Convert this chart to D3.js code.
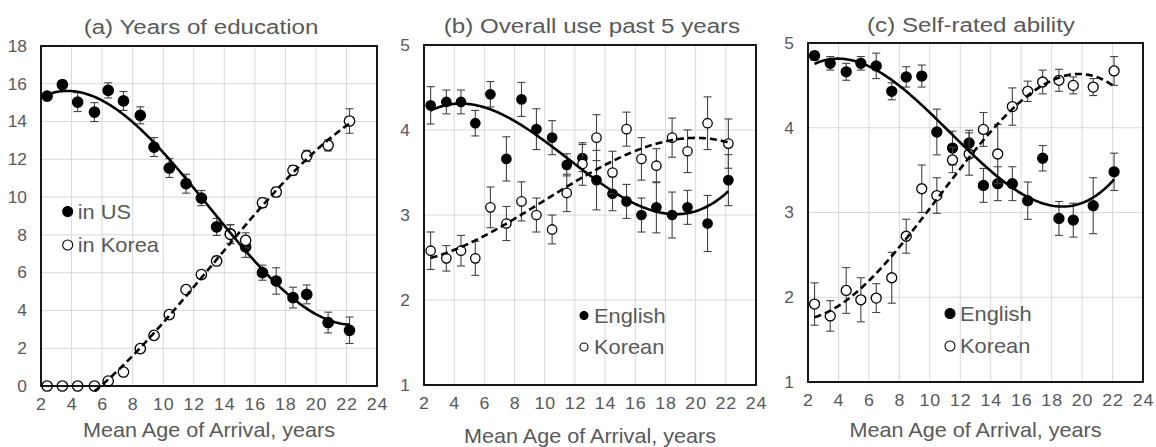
<!DOCTYPE html>
<html>
<head>
<meta charset="utf-8">
<script src="https://cdn.jsdelivr.net/npm/d3@7"></script>
<style>
  html, body { margin: 0; padding: 0; background: #fff; }
  svg { display: block; font-family: Arial, "Liberation Sans", sans-serif; }
</style>
</head>
<body>
<svg id="chart" width="1156" height="447"></svg>
<script>
// ---------- DATA ----------
const xTicks = [2, 4, 6, 8, 10, 12, 14, 16, 18, 20, 22, 24];
const ticksA = [0, 2, 4, 6, 8, 10, 12, 14, 16, 18];
const ticksBC = [1, 2, 3, 4, 5];

// Panel (a) Years of education
const ageA = [2.4, 3.4, 4.4, 5.5, 6.4, 7.4, 8.5, 9.4, 10.4, 11.5, 12.5, 13.5, 14.4, 15.4, 16.5, 17.4, 18.5, 19.4, 20.8, 22.2];
const eduUS = [15.35, 15.96, 15.03, 14.5, 15.65, 15.09, 14.33, 12.65, 11.54, 10.71, 9.95, 8.42, 8.05, 7.36, 6.0, 5.56, 4.68, 4.85, 3.36, 2.95];
const eduUSErr = [0.15, 0.2, 0.5, 0.5, 0.4, 0.5, 0.45, 0.5, 0.5, 0.5, 0.4, 0.45, 0.5, 0.55, 0.4, 0.7, 0.55, 0.5, 0.55, 0.7];
const eduKR = [0, 0, 0, 0, 0.26, 0.74, 1.98, 2.68, 3.78, 5.1, 5.9, 6.62, 8.03, 7.71, 9.7, 10.27, 11.42, 12.18, 12.74, 14.03];
const eduKRErr = [0, 0, 0, 0, 0.1, 0.15, 0.15, 0.2, 0.2, 0.2, 0.2, 0.25, 0.5, 0.4, 0.25, 0.25, 0.25, 0.3, 0.3, 0.65];

// Panel (b) Overall use past 5 years
const ageB = [2.44, 3.48, 4.45, 5.4, 6.4, 7.46, 8.46, 9.45, 10.49, 11.46, 12.5, 13.43, 14.49, 15.42, 16.41, 17.4, 18.44, 19.46, 20.79, 22.17];
const useEN = [4.29, 4.33, 4.33, 4.08, 4.42, 3.66, 4.36, 4.01, 3.91, 3.59, 3.67, 3.41, 3.25, 3.16, 3.0, 3.09, 3.0, 3.09, 2.9, 3.41];
const useENErr = [0.22, 0.14, 0.14, 0.15, 0.15, 0.26, 0.2, 0.24, 0.2, 0.13, 0.16, 0.35, 0.2, 0.2, 0.2, 0.3, 0.27, 0.2, 0.33, 0.3];
const useKR = [2.58, 2.49, 2.58, 2.49, 3.09, 2.9, 3.16, 3.0, 2.83, 3.26, 3.6, 3.91, 3.5, 4.01, 3.66, 3.58, 3.91, 3.75, 4.08, 3.84];
const useKRErr = [0.22, 0.15, 0.18, 0.2, 0.24, 0.2, 0.23, 0.2, 0.17, 0.22, 0.25, 0.27, 0.25, 0.2, 0.25, 0.2, 0.23, 0.25, 0.31, 0.29];

// Panel (c) Self-rated ability
const ageC = [2.43, 3.46, 4.51, 5.47, 6.48, 7.5, 8.45, 9.47, 10.46, 11.49, 12.58, 13.52, 14.46, 15.42, 16.43, 17.41, 18.48, 19.42, 20.73, 22.1];
const ablEN = [4.85, 4.76, 4.66, 4.76, 4.73, 4.43, 4.6, 4.61, 3.95, 3.76, 3.82, 3.32, 3.34, 3.34, 3.14, 3.64, 2.93, 2.91, 3.08, 3.48];
const ablENErr = [0.05, 0.08, 0.1, 0.08, 0.15, 0.1, 0.12, 0.13, 0.27, 0.2, 0.15, 0.2, 0.2, 0.2, 0.22, 0.15, 0.2, 0.2, 0.33, 0.22];
const ablKR = [1.92, 1.78, 2.08, 1.97, 1.99, 2.23, 2.72, 3.28, 3.2, 3.62, 3.69, 3.98, 3.69, 4.25, 4.43, 4.54, 4.56, 4.5, 4.48, 4.67];
const ablKRErr = [0.25, 0.18, 0.27, 0.26, 0.17, 0.3, 0.2, 0.28, 0.21, 0.15, 0.25, 0.2, 0.35, 0.22, 0.12, 0.14, 0.13, 0.1, 0.1, 0.17];

const titles = ["(a) Years of education", "(b) Overall use past 5 years", "(c) Self-rated ability"];
const xTitle = "Mean Age of Arrival, years";
const legendA = ["in US", "in Korea"];
const legendBC = ["English", "Korean"];

// ---------- HELPERS ----------
function polyfit(xs, ys, deg) {
  const n = deg + 1;
  const A = Array.from({length: n}, () => new Array(n + 1).fill(0));
  for (let k = 0; k < xs.length; k++) {
    const p = [];
    for (let i = 0; i < n; i++) p.push(Math.pow(xs[k], i));
    for (let i = 0; i < n; i++) {
      for (let j = 0; j < n; j++) A[i][j] += p[i] * p[j];
      A[i][n] += p[i] * ys[k];
    }
  }
  for (let i = 0; i < n; i++) {
    let m = i;
    for (let r = i + 1; r < n; r++) if (Math.abs(A[r][i]) > Math.abs(A[m][i])) m = r;
    [A[i], A[m]] = [A[m], A[i]];
    for (let r = 0; r < n; r++) {
      if (r === i) continue;
      const f = A[r][i] / A[i][i];
      for (let c = i; c <= n; c++) A[r][c] -= f * A[i][c];
    }
  }
  const coef = A.map((row, i) => row[n] / row[i]);
  return x => coef.reduce((s, c, i) => s + c * Math.pow(x, i), 0);
}

// horizontally stretch text (reference glyphs are slightly wide)
function stretch(sel, sx) {
  sel.each(function () {
    const t = d3.select(this);
    const x = +t.attr("x") || 0, y = +t.attr("y") || 0;
    t.attr("x", 0).attr("y", 0).attr("transform", `translate(${x},${y}) scale(${sx},1)`);
  });
}

const svg = d3.select("#chart");
const gray = "#595959";

function panel(cfg) {
  const x = d3.scaleLinear().domain([2, 24]).range([cfg.left, cfg.right]);
  const y = d3.scaleLinear().domain(cfg.yDomain).range([cfg.bottom, cfg.top]);
  const g = svg.append("g");

  // grid
  g.append("g").selectAll("line").data(xTicks).join("line")
    .attr("x1", d => x(d)).attr("x2", d => x(d))
    .attr("y1", cfg.top).attr("y2", cfg.bottom)
    .attr("stroke", "#d9d9d9").attr("stroke-width", 1);
  g.append("g").selectAll("line").data(cfg.yTicks).join("line")
    .attr("x1", cfg.left).attr("x2", cfg.right)
    .attr("y1", d => y(d)).attr("y2", d => y(d))
    .attr("stroke", "#d9d9d9").attr("stroke-width", 1);

  // axes (labels only)
  const xAxis = d3.axisBottom(x).tickValues(xTicks).tickFormat(d3.format("d")).tickSize(0).tickPadding(12);
  const xg = g.append("g").attr("transform", `translate(0,${cfg.bottom})`).call(xAxis);
  xg.select(".domain").remove();
  xg.selectAll("text").attr("fill", gray).attr("font-size", 16.5).attr("letter-spacing", 0.8);
  stretch(xg.selectAll("text"), 1.08);

  const yAxis = d3.axisLeft(y).tickValues(cfg.yTicks).tickFormat(d3.format("d")).tickSize(0).tickPadding(14);
  const yg = g.append("g").attr("transform", `translate(${cfg.left},0)`).call(yAxis);
  yg.select(".domain").remove();
  yg.selectAll("text").attr("fill", gray).attr("font-size", 16.5);
  stretch(yg.selectAll("text"), 1.05);

  // error bars + markers
  const series = [
    {ys: cfg.y1, err: cfg.e1, filled: true},
    {ys: cfg.y2, err: cfg.e2, filled: false}
  ];
  series.forEach(s => {
    const pts = cfg.xs.map((xv, i) => ({x: xv, y: s.ys[i], e: s.err[i]}));
    const eb = g.append("g").attr("stroke", "#444").attr("stroke-width", 1.1);
    pts.filter(p => p.e > 0).forEach(p => {
      eb.append("line").attr("x1", x(p.x)).attr("x2", x(p.x)).attr("y1", y(p.y - p.e)).attr("y2", y(p.y + p.e));
      [p.y - p.e, p.y + p.e].forEach(v => {
        eb.append("line").attr("x1", x(p.x) - 4).attr("x2", x(p.x) + 4).attr("y1", y(v)).attr("y2", y(v));
      });
    });
    g.append("g").selectAll("circle").data(pts).join("circle")
      .attr("cx", d => x(d.x)).attr("cy", d => y(d.y)).attr("r", cfg.r)
      .attr("fill", s.filled ? "#000" : "#fff")
      .attr("stroke", "#000").attr("stroke-width", 1.3);
  });

  // trend lines (least-squares polynomial fits to the data)
  const line = d3.line().x(d => x(d[0])).y(d => y(d[1]));
  const f1 = polyfit(cfg.xs, cfg.y1, 3);
  const i0 = cfg.fit2Start || 0;
  const f2 = polyfit(cfg.xs.slice(i0), cfg.y2.slice(i0), 3);
  const xsMin = cfg.xs[0], xsMax = cfg.xs[cfg.xs.length - 1];
  const p1 = d3.range(0, 201).map(k => { const xv = xsMin + (xsMax - xsMin) * k / 200; return [xv, f1(xv)]; });
  const x2s = cfg.xs[i0];
  const p2 = d3.range(0, 201).map(k => { const xv = x2s + (xsMax - x2s) * k / 200; return [xv, f2(xv)]; });
  g.append("path").attr("d", line(p1)).attr("fill", "none").attr("stroke", "#000").attr("stroke-width", 2.6);
  g.append("path").attr("d", line(p2)).attr("fill", "none").attr("stroke", "#000").attr("stroke-width", 2.6)
    .attr("stroke-dasharray", "7,4");

  // frame
  g.append("rect").attr("x", cfg.left).attr("y", cfg.top)
    .attr("width", cfg.right - cfg.left).attr("height", cfg.bottom - cfg.top)
    .attr("fill", "none").attr("stroke", "#000").attr("stroke-width", 1.8);

  // titles
  const tt = g.append("text").attr("x", cfg.titleX).attr("y", cfg.titleY).attr("text-anchor", "middle")
    .attr("fill", gray).attr("font-size", 21).text(cfg.title);
  stretch(tt, 1.15);
  const xt = g.append("text").attr("x", (cfg.left + cfg.right) / 2).attr("y", cfg.xTitleY).attr("text-anchor", "middle")
    .attr("fill", gray).attr("font-size", 20).text(xTitle);
  stretch(xt, 1.08);

  // legend
  cfg.legend.forEach((lab, i) => {
    const ly = cfg.legY[i];
    g.append("circle").attr("cx", cfg.legX).attr("cy", ly).attr("r", cfg.legR)
      .attr("fill", i === 0 ? "#000" : "#fff").attr("stroke", "#000").attr("stroke-width", 1.1);
    const lt = g.append("text").attr("x", cfg.legX + cfg.legGap).attr("y", ly).attr("dy", "0.35em")
      .attr("fill", gray).attr("font-size", 21).text(lab);
    stretch(lt, 1.04);
  });
}

panel({left: 41, right: 377, top: 46, bottom: 386, yDomain: [0, 18], yTicks: ticksA,
  xs: ageA, y1: eduUS, e1: eduUSErr, y2: eduKR, e2: eduKRErr, fit2Start: 3, r: 5.2,
  title: titles[0], titleX: 201, titleY: 34, xTitleY: 437,
  legend: legendA, legX: 67.7, legY: [211.5, 245], legR: 5, legGap: 10});

panel({left: 424, right: 756, top: 45, bottom: 385, yDomain: [1, 5], yTicks: ticksBC,
  xs: ageB, y1: useEN, e1: useENErr, y2: useKR, e2: useKRErr, r: 4.7,
  title: titles[1], titleX: 592, titleY: 33, xTitleY: 443,
  legend: legendBC, legX: 584, legY: [315.5, 347], legR: 4, legGap: 10});

panel({left: 808, right: 1143, top: 43, bottom: 382, yDomain: [1, 5], yTicks: ticksBC,
  xs: ageC, y1: ablEN, e1: ablENErr, y2: ablKR, e2: ablKRErr, r: 5,
  title: titles[2], titleX: 971, titleY: 32, xTitleY: 437,
  legend: legendBC, legX: 950, legY: [313.5, 346], legR: 5, legGap: 10});
</script>
</body>
</html>
